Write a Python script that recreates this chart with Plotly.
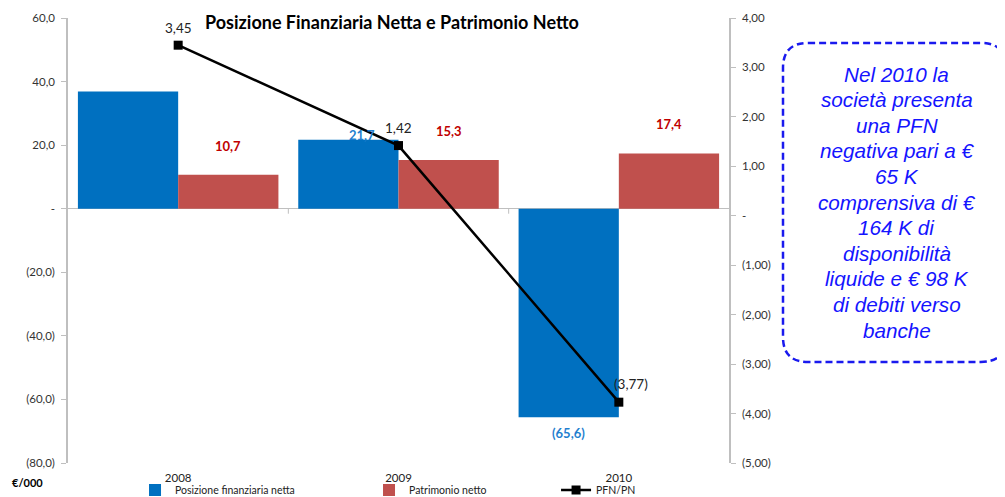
import plotly.graph_objects as go

categories = ["2008", "2009", "2010"]
pfn = [36.9, 21.7, -65.6]          # Posizione finanziaria netta
pn = [10.7, 15.3, 17.4]            # Patrimonio netto
ratio = [3.45, 1.42, -3.77]        # PFN/PN
pfn_labels = ["", "21,7", "(65,6)"]
left_ticks = [-80, -60, -40, -20, 0, 20, 40, 60]
right_ticks = [-5, -4, -3, -2, -1, 0, 1, 2, 3, 4]
note_lines = ["Nel 2010 la", "società presenta", "una PFN", "negativa pari a €", "65 K",
              "comprensiva di €", "164 K di", "disponibilità", "liquide e € 98 K",
              "di debiti verso", "banche"]


def fmt(v, dec):
    if v == 0:
        return "-"
    s = f"{abs(v):.{dec}f}".replace(".", ",")
    return f"({s})" if v < 0 else s


BLUE = "#0070C0"
RED = "#C0504D"
FONT = "Lato"

fig = go.Figure()
fig.add_trace(go.Bar(x=categories, y=pfn, name="Posizione finanziaria netta",
                     marker=dict(color=BLUE, line=dict(width=0)), legend="legend"))
fig.add_trace(go.Bar(x=categories, y=pn, name="Patrimonio netto",
                     marker=dict(color=RED, line=dict(width=0)), legend="legend2"))
fig.add_trace(go.Scatter(x=categories, y=ratio, name="PFN/PN", yaxis="y2", mode="lines+markers",
                         line=dict(color="black", width=2.5),
                         marker=dict(symbol="square", size=9, color="black"), legend="legend3"))

ann = []
# red labels
for i, v in enumerate(pn):
    ann.append(dict(x=i, y=v, xref="x", yref="y", text=f"<b>{fmt(v, 1)}</b>", showarrow=False,
                    xshift=50, yshift=29, font=dict(family=FONT, size=13, color="#C00000")))
# blue labels
for i, (v, t) in enumerate(zip(pfn, pfn_labels)):
    if not t:
        continue
    if v >= 0:
        ys, xs = 5, -37
    else:
        ys, xs = -16, -50
    ann.append(dict(x=i, y=v, xref="x", yref="y", text=f"<b>{t}</b>", showarrow=False,
                    xshift=xs, yshift=ys, font=dict(family=FONT, size=13, color="#1F7FCF")))
# ratio labels
shifts = [(0, 17), (0, 18), (12, 18)]
for i, (v, (xs, ys)) in enumerate(zip(ratio, shifts)):
    ann.append(dict(x=i, y=v, xref="x", yref="y2", text=fmt(v, 2), showarrow=False,
                    xshift=xs, yshift=ys, font=dict(family=FONT, size=13.5, color="#222222")))
# title
ann.append(dict(x=0.490, y=1.0, xref="paper", yref="paper", xanchor="center", yanchor="middle",
                text="<b>Posizione Finanziaria Netta e Patrimonio Netto</b>", showarrow=False,
                yshift=-4, font=dict(family=FONT, size=18, color="black")))
# unit
ann.append(dict(x=-0.088, y=-0.043, xref="paper", yref="paper", xanchor="left", yanchor="middle",
                text="<b>€/000</b>", showarrow=False, font=dict(family=FONT, size=11, color="black")))
# note, one line per annotation
n = len(note_lines)
for k, line in enumerate(note_lines):
    ann.append(dict(x=1.254, y=0.5865, xref="paper", yref="paper", xanchor="center",
                    yanchor="middle", yshift=(n - 1) / 2 * 25.6 - k * 25.6,
                    text=f"<i>{line}</i>", showarrow=False,
                    font=dict(family="Liberation Sans", size=20.7, color="#1414FF")))

x0, x1, y0, y1 = 1.0817, 1.419, 0.227, 0.944
rx, ry = 0.038, 0.056
path = (f"M {x0+rx},{y1} L {x1-rx},{y1} Q {x1},{y1} {x1},{y1-ry} L {x1},{y0+ry} "
        f"Q {x1},{y0} {x1-rx},{y0} L {x0+rx},{y0} Q {x0},{y0} {x0},{y0+ry} "
        f"L {x0},{y1-ry} Q {x0},{y1} {x0+rx},{y1} Z")
shapes = [dict(type="path", path=path, xref="paper", yref="paper",
               line=dict(color="#1A1AEE", width=2.5, dash="7px,4px"))]
for i in range(1, len(categories)):
    shapes.append(dict(type="line", xref="x", yref="y", x0=i - 0.5, x1=i - 0.5,
                       ysizemode="pixel", yanchor=0, y0=0, y1=-5,
                       line=dict(color="#BFBFBF", width=1)))

axis_font = dict(family=FONT, size=11.5, color="#333333")
leg_font = dict(family=FONT, size=10.5, color="#222222")
fig.update_layout(
    width=997, height=489,
    margin=dict(l=60, r=276, t=10, b=34, autoexpand=False),
    paper_bgcolor="white", plot_bgcolor="white",
    barmode="group", bargap=0.09, bargroupgap=0,
    xaxis=dict(type="category", range=[-0.5, 2.5], showline=False, ticks="", showgrid=False,
               automargin=False,
               tickfont=dict(family=FONT, size=11.5, color="#222222"), ticklabelstandoff=6),
    yaxis=dict(range=[-80, 60], tickvals=left_ticks, ticktext=[fmt(v, 1) for v in left_ticks],
               showgrid=False, zeroline=True, zerolinecolor="#BFBFBF", zerolinewidth=1,
               automargin=False,
               showline=True, linecolor="#BFBFBF", linewidth=1.5, ticks="outside", ticklen=5,
               tickcolor="#BFBFBF", tickfont=axis_font, ticklabelstandoff=4),
    yaxis2=dict(range=[-5, 4], tickvals=right_ticks, ticktext=[fmt(v, 2) for v in right_ticks],
                overlaying="y", side="right", showgrid=False, zeroline=False, automargin=False,
                showline=True, linecolor="#BFBFBF", linewidth=1.5, ticks="outside", ticklen=5,
                tickcolor="#BFBFBF", tickfont=axis_font, ticklabelstandoff=4),
    legend=dict(x=0.1274, y=0.0143, xref="container", yref="container", xanchor="left",
                yanchor="middle", orientation="h", font=leg_font, bgcolor="rgba(0,0,0,0)"),
    legend2=dict(x=0.3621, y=0.0143, xref="container", yref="container", xanchor="left",
                 yanchor="middle", orientation="h", font=leg_font, bgcolor="rgba(0,0,0,0)"),
    legend3=dict(x=0.5497, y=0.0143, xref="container", yref="container", xanchor="left",
                 yanchor="middle", orientation="h", font=leg_font, bgcolor="rgba(0,0,0,0)"),
    annotations=ann, shapes=shapes, showlegend=True,
)

fig.write_html("out.html")
